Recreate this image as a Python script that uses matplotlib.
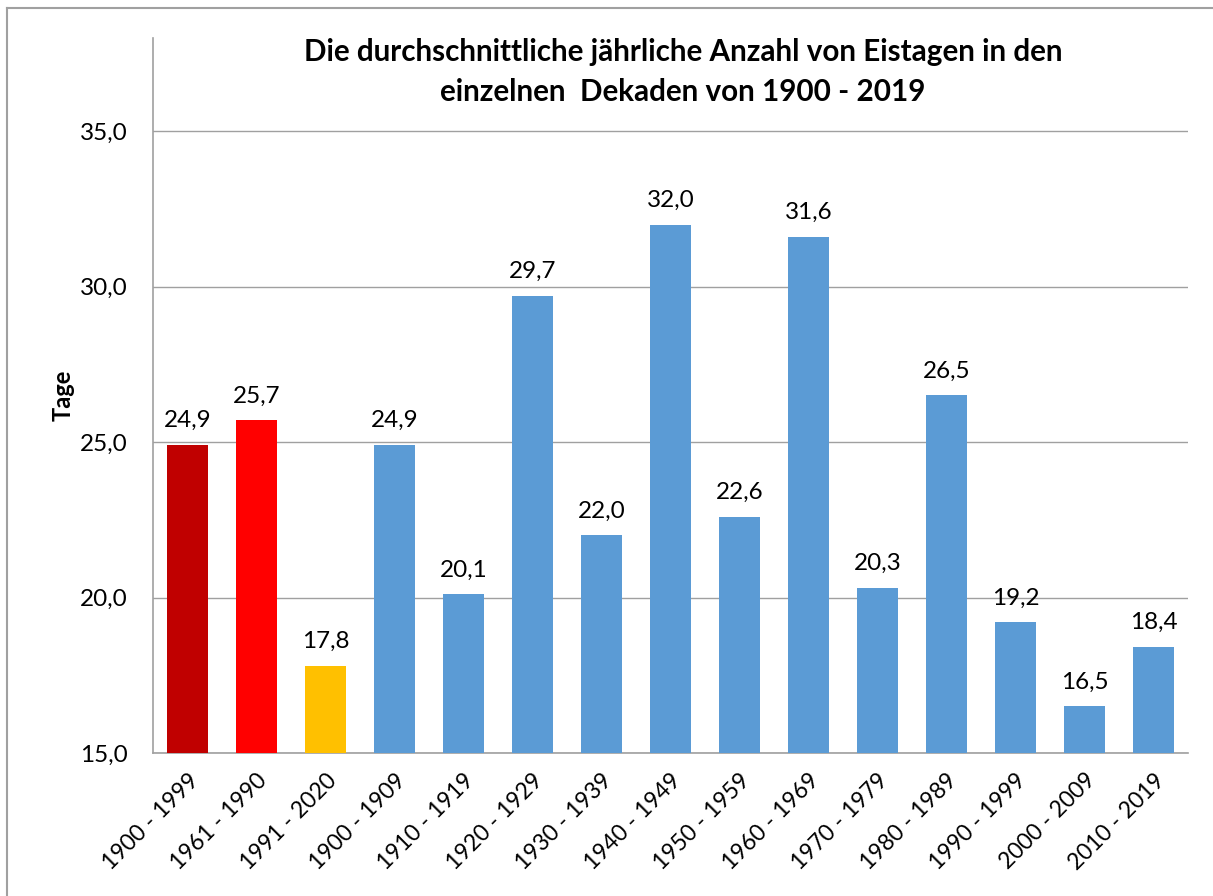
import matplotlib
matplotlib.use("Agg")
import matplotlib.pyplot as plt
from matplotlib.lines import Line2D

categories = ["1900 - 1999", "1961 - 1990", "1991 - 2020", "1900 - 1909", "1910 - 1919",
              "1920 - 1929", "1930 - 1939", "1940 - 1949", "1950 - 1959", "1960 - 1969",
              "1970 - 1979", "1980 - 1989", "1990 - 1999", "2000 - 2009", "2010 - 2019"]
values = [24.9, 25.7, 17.8, 24.9, 20.1, 29.7, 22.0, 32.0, 22.6, 31.6, 20.3, 26.5, 19.2, 16.5, 18.4]
colors = ["#C00000", "#FF0000", "#FFC000"] + ["#5B9BD5"] * 12
yticks = [15, 20, 25, 30, 35]
title = "Die durchschnittliche jährliche Anzahl von Eistagen in den\neinzelnen  Dekaden von 1900 - 2019"
ylabel = "Tage"

plt.rcParams['font.family'] = ['Lato', 'DejaVu Sans']

W, H = 1213, 896
fig = plt.figure(figsize=(W / 100, H / 100), dpi=100)
ax = fig.add_axes([153 / W, 1 - 753 / H, (1188 - 153) / W, (753 - 38) / H])

x = list(range(len(categories)))
bars = ax.bar(x, [v - 15 for v in values], bottom=15, width=0.58, color=colors, zorder=3)
for xi, v in zip(x, values):
    ax.text(xi, v + 0.45, f"{v:.1f}".replace(".", ","), ha="center", va="bottom", fontsize=17.5)

ax.set_xlim(-0.5, len(categories) - 0.5)
ax.set_ylim(15, 38)
ax.set_yticks(yticks)
ax.set_yticklabels([f"{t:.1f}".replace(".", ",") for t in yticks], fontsize=17.5)
ax.set_xticks(x)
ax.set_xticklabels(categories, rotation=45, ha="right", rotation_mode="anchor", fontsize=16.5)
ax.tick_params(axis="y", length=0, pad=18)
ax.tick_params(axis="x", length=0, pad=12)
ax.grid(axis="y", color="#A0A0A0", linewidth=1.0, zorder=0)
for s in ["top", "right"]:
    ax.spines[s].set_visible(False)
for s in ["left", "bottom"]:
    ax.spines[s].set_color("#A0A0A0")
    ax.spines[s].set_linewidth(1.2)
ax.set_ylabel(ylabel, fontsize=17, fontweight="bold", labelpad=4)

fig.text(683 / W, 1 - 72 / H, title, ha="center", va="center", fontsize=21.3,
         fontweight="bold", linespacing=1.55)

# outer border (top and left visible)
fig.add_artist(Line2D([7 / W, 1.0], [1 - 8 / H, 1 - 8 / H], color="#A0A0A0", linewidth=1.5, transform=fig.transFigure))
fig.add_artist(Line2D([7 / W, 7 / W], [0.0, 1 - 8 / H], color="#A0A0A0", linewidth=1.5, transform=fig.transFigure))

fig.savefig("out.png", dpi=100)
